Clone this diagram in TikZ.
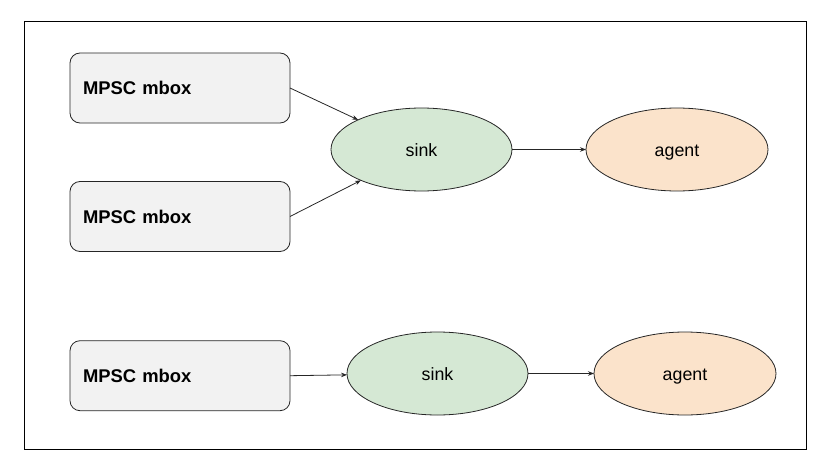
\documentclass[tikz,border=0pt]{standalone}
\usepackage{xcolor}
\usepackage{fontspec}
\setmainfont{Liberation Sans}
\usetikzlibrary{shapes.geometric, arrows.meta}

\definecolor{mboxfill}{HTML}{F2F2F2}
\definecolor{sinkfill}{HTML}{D5E8D4}
\definecolor{agentfill}{HTML}{FBE3CB}

\begin{document}
\begin{tikzpicture}[x=1pt, y=-1pt]
            \tikzstyle{Node} = [draw=black!85, line width=0.8pt, outer sep=0pt, font=\fontsize{17.8}{20}\selectfont]
            \tikzstyle{Mbox Node} = [Node, rectangle, rounded corners=10pt, fill=mboxfill, text width=194pt, inner xsep=13pt, inner ysep=0pt, minimum height=70pt, align=left, font=\fontsize{18.4}{20}\selectfont\bfseries]
            \tikzstyle{Sink Node} = [Node, ellipse, fill=sinkfill, inner sep=0pt, text height=13pt, text depth=0pt, minimum width=181pt, minimum height=83pt]
            \tikzstyle{Agent Node} = [Sink Node, fill=agentfill, minimum width=182pt]
            \tikzstyle{Edge} = [line width=0.8pt, draw=black!85, -{Stealth[length=6pt, width=4.5pt]}]
            \useasboundingbox (0, 0) rectangle (829, 468);
            \draw[line width=0.8pt] (24, 21.5) rectangle (806.5, 449.5);
            % upper group: two mailboxes into one sink
            \node[Mbox Node] (mbox1) at (180, 88) {MPSC mbox};
            \node[Mbox Node] (mbox2) at (180, 216.5) {MPSC mbox};
            \node[Sink Node] (sink1) at (421.5, 149.5) {sink};
            \node[Agent Node] (agent1) at (677, 149.5) {agent};
            \draw[Edge] (mbox1.east) -- (sink1);
            \draw[Edge] (mbox2.east) -- (sink1);
            \draw[Edge] (sink1) -- (agent1);
            % lower group
            \node[Mbox Node] (mbox3) at (180, 375.7) {MPSC mbox};
            \node[Sink Node] (sink2) at (437.5, 373.5) {sink};
            \node[Agent Node] (agent2) at (685, 373.5) {agent};
            \draw[Edge] (mbox3.east) -- (sink2);
            \draw[Edge] (sink2) -- (agent2);
        \end{tikzpicture}
\end{document}
